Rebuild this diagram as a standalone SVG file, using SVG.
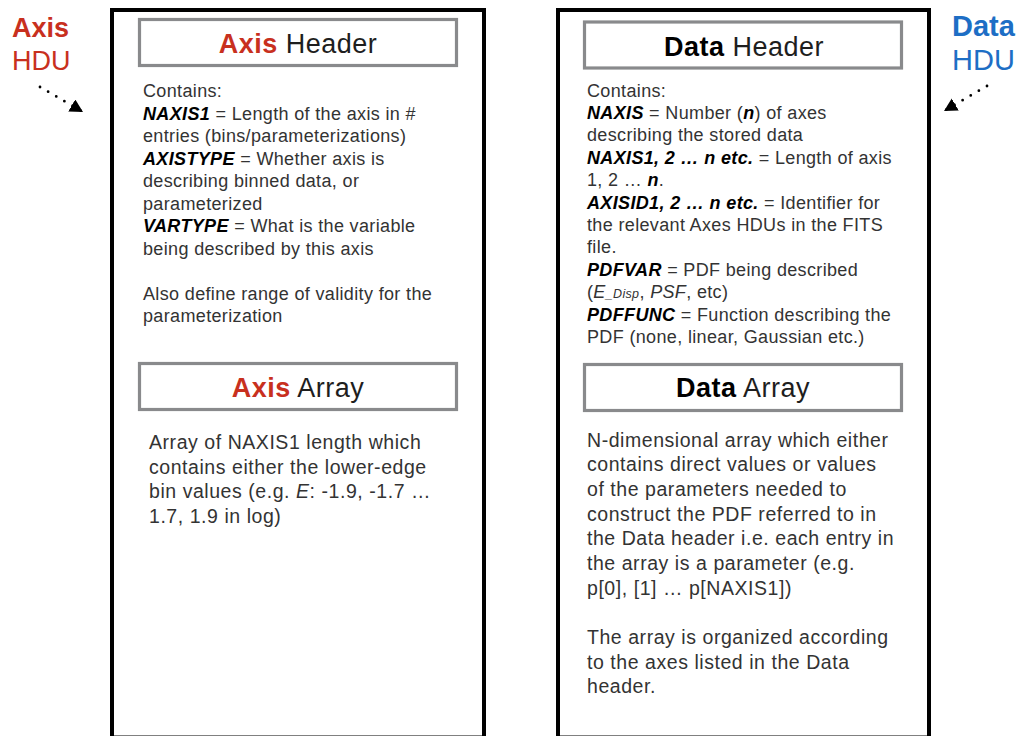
<svg xmlns="http://www.w3.org/2000/svg" width="1017" height="736" viewBox="0 0 1017 736">
<style>
.outer{fill:#fff;stroke:#000;stroke-width:4}
.sec{fill:#fff;stroke:#898a8c;stroke-width:3.2}
.title{font-family:"Liberation Sans",Arial,sans-serif;font-size:27px;fill:#1e1e1e;text-anchor:middle;letter-spacing:0.5px}
.b{font-weight:bold}
.red{fill:#c8301e}
.blue{fill:#1d6ec5}
.blk{fill:#000}
.body{font-family:"Liberation Sans",Arial,sans-serif;font-size:18px;fill:#333;letter-spacing:0.35px}
.arr{font-family:"Liberation Sans",Arial,sans-serif;font-size:19.5px;fill:#333;letter-spacing:0.55px}
.k{font-weight:bold;font-style:italic;fill:#000}
.i{font-style:italic}
.side{font-family:"Liberation Sans",Arial,sans-serif}
.dots{fill:none;stroke:#000;stroke-width:2.8;stroke-linecap:round;stroke-dasharray:0 9.4}
</style>
<defs>
<marker id="tri" markerUnits="userSpaceOnUse" markerWidth="15" markerHeight="15" refX="13" refY="7" orient="auto">
<path d="M0,0 L13,7 L0,14 z" fill="#000"/>
</marker>
</defs>
<rect width="1017" height="736" fill="#fff"/>

<g id="axis-label" class="side">
<text x="12" y="37" font-size="27" font-weight="bold" class="red">Axis</text>
<text x="12" y="70" font-size="27" class="red">HDU</text>
</g>
<g id="data-label" class="side">
<text x="952" y="36" font-size="29" font-weight="bold" class="blue">Data</text>
<text x="952" y="70" font-size="29" class="blue">HDU</text>
</g>

<g id="axis-hdu">
<rect class="outer" x="112" y="10" width="372" height="727.5"/>
</g>
<g id="data-hdu">
<rect class="outer" x="558" y="10" width="371" height="727.5"/>
</g>

<g id="axis-header">
<rect class="sec" x="139.5" y="19.5" width="317" height="46"/>
<text class="title" x="298" y="53"><tspan class="b red">Axis</tspan> Header</text>
<text class="body" x="143">
<tspan x="143" y="97">Contains:</tspan>
<tspan x="143" y="119.5"><tspan class="k">NAXIS1</tspan> = Length of the axis in #</tspan>
<tspan x="143" y="142">entries (bins/parameterizations)</tspan>
<tspan x="143" y="164.5"><tspan class="k">AXISTYPE</tspan> = Whether axis is</tspan>
<tspan x="143" y="187">describing binned data, or</tspan>
<tspan x="143" y="209.5">parameterized</tspan>
<tspan x="143" y="232"><tspan class="k">VARTYPE</tspan> = What is the variable</tspan>
<tspan x="143" y="254.5">being described by this axis</tspan>
<tspan x="143" y="299.5">Also define range of validity for the</tspan>
<tspan x="143" y="322">parameterization</tspan>
</text>
</g>

<g id="axis-array">
<rect class="sec" x="139.5" y="363.5" width="317" height="46"/>
<text class="title" x="298" y="397"><tspan class="b red">Axis</tspan> Array</text>
<text class="arr">
<tspan x="149" y="449">Array of NAXIS1 length which</tspan>
<tspan x="149" y="473.6">contains either the lower-edge</tspan>
<tspan x="149" y="498.2">bin values (e.g. <tspan class="i">E</tspan>: -1.9, -1.7 …</tspan>
<tspan x="149" y="522.8">1.7, 1.9 in log)</tspan>
</text>
</g>

<g id="data-header">
<rect class="sec" x="584.5" y="22" width="317" height="46"/>
<text class="title" x="744" y="55.5"><tspan class="b blk">Data</tspan> Header</text>
<text class="body">
<tspan x="587" y="96.5">Contains:</tspan>
<tspan x="587" y="118.9"><tspan class="k">NAXIS</tspan> = Number (<tspan class="k">n</tspan>) of axes</tspan>
<tspan x="587" y="141.3">describing the stored data</tspan>
<tspan x="587" y="163.7"><tspan class="k">NAXIS1, 2 … n etc.</tspan> = Length of axis</tspan>
<tspan x="587" y="186.1">1, 2 … <tspan class="k">n</tspan>.</tspan>
<tspan x="587" y="208.5"><tspan class="k">AXISID1, 2 … n etc.</tspan> = Identifier for</tspan>
<tspan x="587" y="230.9">the relevant Axes HDUs in the FITS</tspan>
<tspan x="587" y="253.3">file.</tspan>
<tspan x="587" y="275.7"><tspan class="k">PDFVAR</tspan> = PDF being described</tspan>
<tspan x="587" y="298.1">(<tspan class="i">E</tspan><tspan class="i" font-size="12.5">_Disp</tspan>, <tspan class="i">PSF</tspan>, etc)</tspan>
<tspan x="587" y="320.5"><tspan class="k">PDFFUNC</tspan> = Function describing the</tspan>
<tspan x="587" y="342.9">PDF (none, linear, Gaussian etc.)</tspan>
</text>
</g>

<g id="data-array">
<rect class="sec" x="584.5" y="364.5" width="317" height="46"/>
<text class="title" x="743" y="397"><tspan class="b blk">Data</tspan> Array</text>
<text class="arr">
<tspan x="587" y="446.7">N-dimensional array which either</tspan>
<tspan x="587" y="471.4">contains direct values or values</tspan>
<tspan x="587" y="496">of the parameters needed to</tspan>
<tspan x="587" y="520.7">construct the PDF referred to in</tspan>
<tspan x="587" y="545.3">the Data header i.e. each entry in</tspan>
<tspan x="587" y="570">the array is a parameter (e.g.</tspan>
<tspan x="587" y="594.7">p[0], [1] … p[NAXIS1])</tspan>
<tspan x="587" y="644">The array is organized according</tspan>
<tspan x="587" y="668.6">to the axes listed in the Data</tspan>
<tspan x="587" y="693.3">header.</tspan>
</text>
</g>

<g id="connectors">
<path class="dots" d="M40,87 L83,112" marker-end="url(#tri)"/>
<path class="dots" d="M987,86 L944,111" marker-end="url(#tri)"/>
</g>
</svg>
